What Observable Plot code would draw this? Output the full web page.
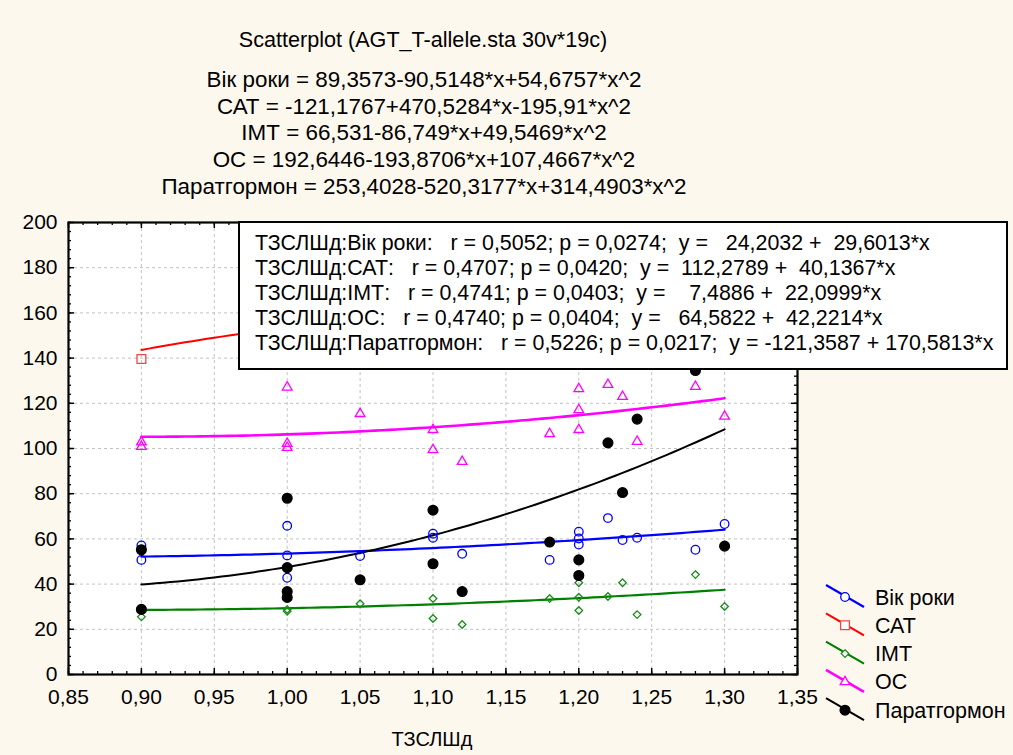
<!DOCTYPE html>
<html>
<head>
<meta charset="utf-8">
<script src="https://cdn.jsdelivr.net/npm/d3@7"></script>
<script src="https://cdn.jsdelivr.net/npm/@observablehq/plot@0.6"></script>
<style>
  html, body { margin: 0; padding: 0; }
  body { width: 1013px; height: 755px; overflow: hidden; }
  #wrap { position: relative; width: 1013px; height: 755px; background: #fcf8ee; font-family: "Liberation Sans", Arial, sans-serif; color: #000; }
  #wrap svg { position: absolute; left: 0; top: 0; }
  .t { position: absolute; white-space: pre; text-align: center; }
  #stats { position: absolute; left: 238px; top: 221px; width: 766px; height: 145px; background: #fff; border: 2px solid #000; font-size: 21.4px; }
  #stats div { position: absolute; left: 15px; white-space: pre; line-height: 25px; }
</style>
</head>
<body>
<div id="wrap"></div>
<script>
// ---- data ----
const seriesNames = ["Вік роки", "САТ", "ІМТ", "ОС", "Паратгормон"];

const vikX = [0.90, 0.90, 1.00, 1.00, 1.00, 1.05, 1.10, 1.10, 1.12, 1.18, 1.20, 1.20, 1.20, 1.22, 1.23, 1.24, 1.28, 1.30];
const vikY = [57.1, 50.7, 65.8, 52.7, 42.8, 52.4, 62.3, 60.5, 53.4, 50.7, 63.2, 60.2, 57.5, 69.2, 59.5, 60.5, 55.2, 66.6];

const catX = [0.90];
const catY = [139.6];

const imtX = [0.90, 1.00, 1.00, 1.05, 1.10, 1.10, 1.12, 1.18, 1.20, 1.20, 1.20, 1.22, 1.23, 1.24, 1.28, 1.30];
const imtY = [25.5, 28.8, 28.0, 31.3, 33.6, 24.8, 22.1, 33.6, 40.6, 34.2, 28.3, 34.5, 40.6, 26.5, 44.2, 30.1];

const ocX = [0.90, 0.90, 1.00, 1.00, 1.00, 1.05, 1.10, 1.10, 1.12, 1.18, 1.20, 1.20, 1.20, 1.22, 1.23, 1.24, 1.28, 1.30];
const ocY = [102.8, 100.8, 127.1, 102.2, 100.4, 115.4, 108.3, 99.4, 94.2, 106.5, 126.4, 117.1, 108.3, 128.3, 123.0, 103.1, 127.4, 114.2];

const ptgX = [0.90, 0.90, 1.00, 1.00, 1.00, 1.00, 1.05, 1.10, 1.10, 1.12, 1.18, 1.20, 1.20, 1.22, 1.23, 1.24, 1.28, 1.30];
const ptgY = [55.2, 28.8, 78.0, 47.3, 36.7, 34.1, 41.9, 72.7, 49.0, 36.7, 58.6, 50.7, 43.8, 102.5, 80.5, 113.0, 134.5, 56.8];

// quadratic fit coefficients printed in the chart header: y = a + b*x + c*x^2
const fitA = [89.3573, -121.1767, 66.531, 192.6446, 253.4028];
const fitB = [-90.5148, 470.5284, -86.749, -193.8706, -520.3177];
const fitC = [54.6757, -195.91, 49.5469, 107.4667, 314.4903];
const fitRange = [0.90, 1.30];

const xMajor = [0.85, 0.90, 0.95, 1.00, 1.05, 1.10, 1.15, 1.20, 1.25, 1.30, 1.35];
const yMajor = [0, 20, 40, 60, 80, 100, 120, 140, 160, 180, 200];

const titleText = "Scatterplot (AGT_T-allele.sta 30v*19c)";
const eqLines = [
  "Вік роки = 89,3573-90,5148*x+54,6757*x^2",
  "САТ = -121,1767+470,5284*x-195,91*x^2",
  "ІМТ = 66,531-86,749*x+49,5469*x^2",
  "ОС = 192,6446-193,8706*x+107,4667*x^2",
  "Паратгормон = 253,4028-520,3177*x+314,4903*x^2"
];
const statsLines = [
  "ТЗСЛШд:Вік роки:   r = 0,5052; p = 0,0274;  y =   24,2032 +  29,6013*x",
  "ТЗСЛШд:САТ:   r = 0,4707; p = 0,0420;  y =  112,2789 +  40,1367*x",
  "ТЗСЛШд:ІМТ:   r = 0,4741; p = 0,0403;  y =    7,4886 +  22,0999*x",
  "ТЗСЛШд:ОС:   r = 0,4740; p = 0,0404;  y =   64,5822 +  42,2214*x",
  "ТЗСЛШд:Паратгормон:   r = 0,5226; p = 0,0217;  y = -121,3587 + 170,5813*x"
];
const xLabel = "ТЗСЛШд";

// ---- styles ----
const lineColors = ["#0000ff", "#ff0000", "#008000", "#ff00ff", "#000000"];
const markColors = ["#0000ff", "#f04848", "#1a8c1a", "#ff00ff", "#000000"];
const lineWidths = [2.2, 2, 2.2, 2.6, 2];
const symbols = ["circle", "square2", "diamond2", "triangle2", "circle"];
const radii = [4.3, 5.6, 3.4, 4.6, 4.9];
const filled = [false, false, false, false, true];

const pts = [[vikX, vikY], [catX, catY], [imtX, imtY], [ocX, ocY], [ptgX, ptgY]];

const ML = 68, MR = 216, MT = 222, MB = 81, W = 1013, H = 755;
const PW = W - ML - MR, PH = H - MT - MB;

const xMinor = d3.range(85, 136).map(v => v / 100);
const yMinor = d3.range(0, 201, 4);

const fmtX = d => d.toFixed(2).replace(".", ",");

const marks = [
  Plot.frame({fill: "white"}),
  Plot.gridX(xMajor, {stroke: "#c2c2c2", strokeOpacity: 1, strokeDasharray: "3,3", strokeWidth: 1}),
  Plot.gridY(yMajor, {stroke: "#c2c2c2", strokeOpacity: 1, strokeDasharray: "3,3", strokeWidth: 1})
];

seriesNames.forEach((name, i) => {
  const xs = d3.range(Math.round(fitRange[0] * 200), Math.round(fitRange[1] * 200) + 1).map(v => v / 200);
  const curve = xs.map(x => ({x, y: fitA[i] + fitB[i] * x + fitC[i] * x * x}));
  marks.push(Plot.line(curve, {x: "x", y: "y", stroke: lineColors[i], strokeWidth: lineWidths[i]}));
});
seriesNames.forEach((name, i) => {
  const [xs, ys] = pts[i];
  const data = xs.map((x, k) => ({x, y: ys[k]}));
  marks.push(Plot.dot(data, {
    x: "x", y: "y", symbol: () => symbols[i], r: radii[i],
    stroke: markColors[i], strokeWidth: 1.3,
    fill: filled[i] ? markColors[i] : "none"
  }));
});

// inward ticks on all four sides
marks.push(
  Plot.tickX(xMinor, {x: d => d, insetTop: PH - 3, stroke: "#000", strokeWidth: 1.3}),
  Plot.tickX(xMinor, {x: d => d, insetBottom: PH - 3, stroke: "#000", strokeWidth: 1.3}),
  Plot.tickX(xMajor, {x: d => d, insetTop: PH - 6, stroke: "#000", strokeWidth: 1.5}),
  Plot.tickX(xMajor, {x: d => d, insetBottom: PH - 6, stroke: "#000", strokeWidth: 1.5}),
  Plot.tickY(yMinor, {y: d => d, insetRight: PW - 3, stroke: "#000", strokeWidth: 1.3}),
  Plot.tickY(yMinor, {y: d => d, insetLeft: PW - 3, stroke: "#000", strokeWidth: 1.3}),
  Plot.tickY(yMajor, {y: d => d, insetRight: PW - 6, stroke: "#000", strokeWidth: 1.5}),
  Plot.tickY(yMajor, {y: d => d, insetLeft: PW - 6, stroke: "#000", strokeWidth: 1.5}),
  Plot.frame({stroke: "#000", strokeWidth: 2.2}),
  Plot.axisX(xMajor, {tickSize: 0, tickPadding: 15, tickFormat: fmtX, fontSize: 21, fill: "#000", label: null}),
  Plot.axisY(yMajor, {tickSize: 0, tickPadding: 11, tickFormat: d => String(d), fontSize: 21, fill: "#000", label: null})
);

const chart = Plot.plot({
  width: W, height: H,
  marginLeft: ML, marginRight: MR, marginTop: MT, marginBottom: MB,
  style: {background: "transparent", fontFamily: "'Liberation Sans', Arial, sans-serif", color: "#000"},
  x: {domain: [0.85, 1.35], label: null},
  y: {domain: [0, 200], label: null},
  marks
});

const wrap = document.getElementById("wrap");
wrap.appendChild(chart);

// title + equations
function addText(txt, cx, cy, size) {
  const d = document.createElement("div");
  d.className = "t";
  d.textContent = txt;
  d.style.fontSize = size + "px";
  d.style.lineHeight = size + "px";
  d.style.left = (cx - 400) + "px";
  d.style.width = "800px";
  d.style.top = (cy - size / 2 - 1) + "px";
  wrap.appendChild(d);
}
addText(titleText, 423, 41, 21.6);
eqLines.forEach((t, i) => addText(t, 424, 81 + i * 26.75, 22.4));
addText(xLabel, 432, 740, 20);

// stats box
const box = document.createElement("div");
box.id = "stats";
statsLines.forEach((t, i) => {
  const d = document.createElement("div");
  d.textContent = t;
  d.style.top = (8 + i * 25) + "px";
  box.appendChild(d);
});
wrap.appendChild(box);

// legend
const leg = d3.select(wrap).append("svg")
  .attr("width", W).attr("height", H)
  .style("pointer-events", "none");
seriesNames.forEach((name, i) => {
  const cy = 597 + i * 28.3;
  const g = leg.append("g");
  g.append("line").attr("x1", 826).attr("y1", cy - 12).attr("x2", 864).attr("y2", cy + 10)
    .attr("stroke", lineColors[i]).attr("stroke-width", lineWidths[i]);
  const symMap = {circle: d3.symbolCircle, square2: d3.symbolSquare2, diamond2: d3.symbolDiamond2, triangle2: d3.symbolTriangle2};
  g.append("path")
    .attr("d", d3.symbol(symMap[symbols[i]], Math.PI * radii[i] * radii[i])())
    .attr("transform", `translate(845,${cy})`)
    .attr("fill", filled[i] ? markColors[i] : "#fff")
    .attr("stroke", markColors[i]).attr("stroke-width", 1.3);
  g.append("text").attr("x", 875).attr("y", cy).attr("dy", "0.35em")
    .attr("font-size", 21.5).attr("font-family", "'Liberation Sans', Arial, sans-serif")
    .attr("fill", "#000").text(name);
});
</script>
</body>
</html>
